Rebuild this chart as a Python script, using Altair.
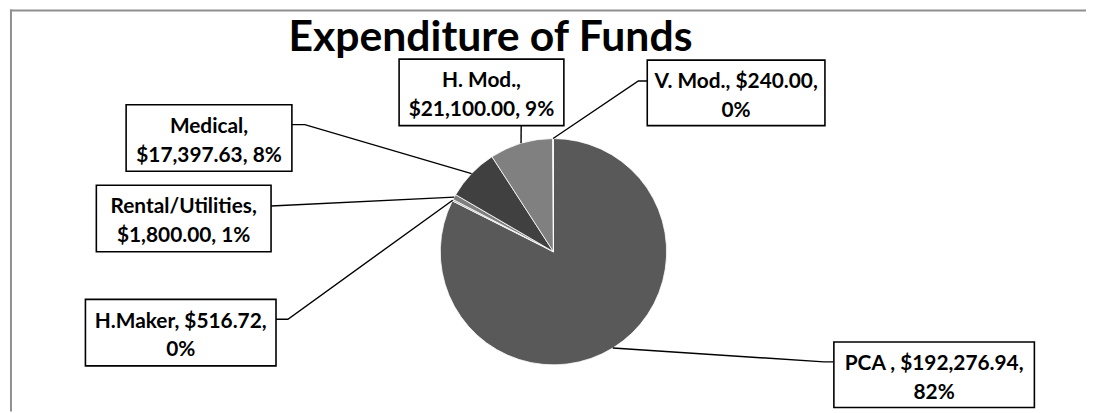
import math
import altair as alt
import pandas as pd

# ---- data ----
categories = ["PCA ", "H.Maker", "Rental/Utilities", "Medical", "H. Mod.", "V. Mod."]
amounts = [192276.94, 516.72, 1800.00, 17397.63, 21100.00, 240.00]
percents = [82, 0, 1, 8, 9, 0]

# ---- styling / layout (kept apart from the data) ----
slice_colors = ["#595959", "#a6a6a6", "#7f7f7f", "#404040", "#808080", "#d9d9d9"]
wrap_after = [2, 2, 1, 1, 1, 2]  # label parts on the first line
OFF = 8  # page margin
CX, CY, R = 557.5 - OFF, 252 - OFF, 114
# label boxes in page px: x0, x1, y0, y1, attach_x, attach_y, elbow_x, elbow_y
box_layout = [
    (840, 1042, 343, 409, 840, 363, 830, 363),
    (86, 278, 300, 367, 278, 320, 290, 320),
    (97, 273, 185, 252, 273, 206, 273, 206),
    (127, 294, 104, 171, 294, 124, 307, 124),
    (402, 568, 58, 125, 525, 125, 525, 125),
    (652, 831, 59, 125, 652, 80, 643, 80),
]
FONT = "Lato"

total = sum(amounts)
pie_df = pd.DataFrame({"cat": categories, "amount": amounts, "idx": list(range(len(categories)))})

# leader lines: from the arc midpoint of each slice to its label box
line_rows, box_rows = [], []
cum = 0.0
for i, (cat, amt, pct) in enumerate(zip(categories, amounts, percents)):
    frac = amt / total
    mid = (cum + frac / 2) * 2 * math.pi
    cum += frac
    ax = CX + R * math.sin(mid)
    ay = CY - R * math.cos(mid)
    x0, x1, y0, y1, tx, ty, ex, ey = [v - OFF for v in box_layout[i]]
    for step, (px, py) in enumerate([(ax, ay), (ex, ey), (tx, ty)]):
        line_rows.append({"cat": cat, "step": step, "px": px, "py": py})
    parts = [cat, f"${amt:,.2f}", f"{pct}%"]
    k = wrap_after[i]
    label = ", ".join(parts[:k]) + ",\n" + ", ".join(parts[k:])
    box_rows.append({"cat": cat, "x0": x0, "x1": x1, "y0": y0, "y1": y1,
                     "tx": (x0 + x1) / 2, "ty": y0 + 28.5, "label": label})
lines_df = pd.DataFrame(line_rows)
boxes_df = pd.DataFrame(box_rows)

W, H = 1094 - OFF, 413 - OFF

frame_top = alt.Chart(pd.DataFrame({"k": [0]})).mark_rule(color="#8f8f8f", strokeWidth=2).encode(
    x=alt.value(2), x2=alt.value(W), y=alt.value(1))
frame_left = alt.Chart(pd.DataFrame({"k": [0]})).mark_rule(color="#8f8f8f", strokeWidth=2).encode(
    x=alt.value(3), y=alt.value(0), y2=alt.value(H))

pie = alt.Chart(pie_df).mark_arc(radius=R, stroke="white", strokeWidth=0.8).encode(
    theta=alt.Theta("amount:Q", stack=True),
    color=alt.Color("cat:N", scale=alt.Scale(domain=categories, range=slice_colors), legend=None),
    order=alt.Order("idx:Q"),
    x=alt.value(CX),
    y=alt.value(CY),
)

leaders = alt.Chart(lines_df).mark_line(color="black", strokeWidth=1.4).encode(
    x=alt.X("px:Q", scale=None),
    y=alt.Y("py:Q", scale=None),
    detail="cat:N",
    order="step:Q",
)

boxes = alt.Chart(boxes_df).mark_rect(fill="white", stroke="black", strokeWidth=1.6).encode(
    x=alt.X("x0:Q", scale=None), x2="x1:Q",
    y=alt.Y("y0:Q", scale=None), y2="y1:Q",
)

labels = alt.Chart(boxes_df).mark_text(
    align="center", baseline="alphabetic", font=FONT, fontWeight="bold",
    fontSize=21, lineHeight=29, lineBreak="\n", color="black",
).encode(
    x=alt.X("tx:Q", scale=None),
    y=alt.Y("ty:Q", scale=None),
    text="label:N",
)

title = alt.Chart(pd.DataFrame({"t": ["Expenditure of Funds"]})).mark_text(
    align="center", baseline="alphabetic", font=FONT, fontWeight="bold", fontSize=43, color="black",
).encode(x=alt.value(494 - OFF), y=alt.value(50 - OFF), text="t:N")

chart = alt.layer(frame_top, frame_left, pie, leaders, boxes, labels, title).properties(
    width=W, height=H, padding=0, autosize=alt.AutoSizeParams(type="none"),
).configure_view(strokeWidth=0)

chart.save("out.html", embed_options={"renderer": "svg", "actions": False})
